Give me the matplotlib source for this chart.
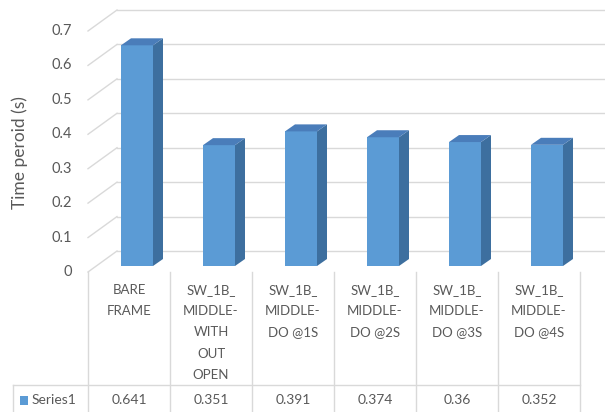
import matplotlib
matplotlib.use("Agg")
import matplotlib.pyplot as plt
from matplotlib.patches import Polygon

plt.rcParams['font.family'] = ['Lato', 'DejaVu Sans']

# Data
categories = [
    ["BARE", "FRAME"],
    ["SW_1B_", "MIDDLE-", "WITH", "OUT", "OPEN"],
    ["SW_1B_", "MIDDLE-", "DO @1S"],
    ["SW_1B_", "MIDDLE-", "DO @2S"],
    ["SW_1B_", "MIDDLE-", "DO @3S"],
    ["SW_1B_", "MIDDLE-", "DO @4S"],
]
values = [0.641, 0.351, 0.391, 0.374, 0.36, 0.352]
value_labels = ["0.641", "0.351", "0.391", "0.374", "0.36", "0.352"]
series_name = "Series1"
y_ticks = [0, 0.1, 0.2, 0.3, 0.4, 0.5, 0.6, 0.7]
y_tick_labels = ["0", "0.1", "0.2", "0.3", "0.4", "0.5", "0.6", "0.7"]
y_title = "Time peroid (s)"

W, H = 605, 412
fig = plt.figure(figsize=(W / 100, H / 100), dpi=100)

# Front plane of the plot in pixels
x0_px, x1_px = 88, 580
y0_px, y1_px = 272, 31          # value 0 and 0.7, measured from the top
n = len(values)
ymax = 0.7
px_per_cat = (x1_px - x0_px) / n
px_per_val = (y0_px - y1_px) / ymax

ax = fig.add_axes([x0_px / W, 1 - y0_px / H, (x1_px - x0_px) / W, (y0_px - y1_px) / H])
ax.set_xlim(0, n)
ax.set_ylim(0, ymax)
ax.axis('off')

# depth of the walls and of the bars (pixel offsets converted to data units)
wall_dx, wall_dy = 29 / px_per_cat, 21 / px_per_val
bar_fx, bar_fy = 8 / px_per_cat, 6 / px_per_val      # front face position inside the box
bar_dx, bar_dy = 10 / px_per_cat, 7 / px_per_val      # bar depth
bar_w = 32 / px_per_cat

grid_c = '#d9d9d9'
text_c = '#595959'

# gridlines: left wall diagonals and back wall horizontals
for t in y_ticks:
    ax.plot([0, wall_dx], [t, t + wall_dy], color=grid_c, lw=1.0, clip_on=False, zorder=1)
    ax.plot([wall_dx, n + wall_dx], [t + wall_dy, t + wall_dy], color=grid_c, lw=1.0,
            clip_on=False, zorder=1)

front_c, side_c, top_c = '#5b9bd5', '#3d6f9f', '#4a7dba'
for i, v in enumerate(values):
    xl = i + 0.5 - bar_w / 2 + bar_fx
    xr = xl + bar_w
    yb = bar_fy
    yt = v + bar_fy
    front = Polygon([(xl, yb), (xr, yb), (xr, yt), (xl, yt)], closed=True,
                    facecolor=front_c, edgecolor='none', zorder=3, clip_on=False)
    side = Polygon([(xr, yb), (xr + bar_dx, yb + bar_dy), (xr + bar_dx, yt + bar_dy), (xr, yt)],
                   closed=True, facecolor=side_c, edgecolor='none', zorder=3, clip_on=False)
    top = Polygon([(xl, yt), (xr, yt), (xr + bar_dx, yt + bar_dy), (xl + bar_dx, yt + bar_dy)],
                  closed=True, facecolor=top_c, edgecolor='none', zorder=3, clip_on=False)
    for p in (front, side, top):
        ax.add_patch(p)

# y tick labels
for t, lab in zip(y_ticks, y_tick_labels):
    ax.text(-16 / px_per_cat, t, lab, ha='right', va='center', fontsize=10.5, color=text_c)

fig.text(20 / W, 1 - 153 / H, y_title, rotation=90, ha='center', va='center',
         fontsize=12.5, color=text_c)

# data table
def fx(px):
    return px / W

def fy(py):
    return 1 - py / H

col_edges = [x0_px + i * px_per_cat for i in range(n + 1)]
for xe in col_edges:
    fig.add_artist(plt.Line2D([fx(xe), fx(xe)], [fy(272), fy(412)], color=grid_c, lw=1.0))
fig.add_artist(plt.Line2D([fx(13), fx(x1_px)], [fy(385), fy(385)], color=grid_c, lw=1.0))
fig.add_artist(plt.Line2D([fx(13), fx(13)], [fy(385), fy(412)], color=grid_c, lw=1.0))

for i, lines in enumerate(categories):
    cx = x0_px + (i + 0.5) * px_per_cat
    for k, line in enumerate(lines):
        fig.text(fx(cx), fy(290 + 21.2 * k), line, ha='center', va='center',
                 fontsize=9.5, color=text_c)
    fig.text(fx(cx), fy(400), value_labels[i], ha='center', va='center',
             fontsize=10, color=text_c)

fig.add_artist(plt.Rectangle((fx(20), fy(405)), 8 / W, 9 / H, facecolor=front_c,
                             edgecolor='none'))
fig.text(fx(32), fy(400), series_name, ha='left', va='center', fontsize=10, color=text_c)

fig.savefig('out.png', dpi=100)
